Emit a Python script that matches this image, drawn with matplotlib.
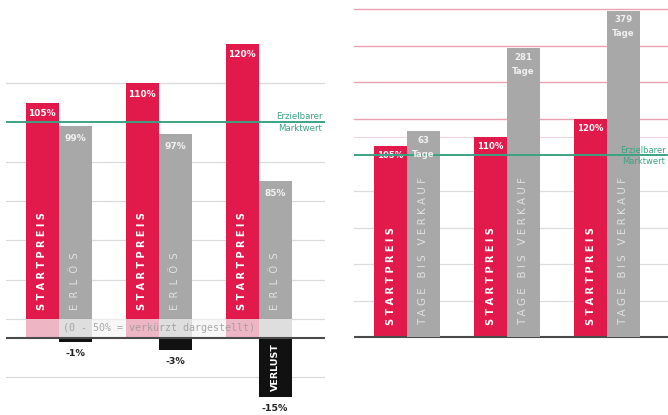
import numpy as np
import matplotlib
matplotlib.use('Agg')
import matplotlib.pyplot as plt
from matplotlib.transforms import blended_transform_factory

# ---------------- data ----------------
groups = [0, 1, 2]
startpreis = [105, 110, 120]
startpreis_labels = ['105%', '110%', '120%']
erloes = [99, 97, 85]
erloes_labels = ['99%', '97%', '85%']
verlust = [-1, -3, -15]
verlust_labels = ['-1%', '-3%', '-15%']
marktwert = 100
tage = [63, 281, 379]
tage_labels = ['63', '281', '379']
cut_lo, cut_hi = 0, 50
grid_left = [-10, 50, 60, 70, 80, 90, 110]
grid_right_grey = [20, 40, 60, 80]
grid_right_red = [120, 140, 160, 180]
grid_right_faint = [110]

RED = '#e11a4b'
GREY = '#a8a8a8'
GREEN = '#3aa382'
BLACK = '#111111'

W, H = 668, 415
fig = plt.figure(figsize=(W / 100, H / 100), dpi=100)

# broken scale for left panel: 0-50 % compressed
C = 4.85
def fwd(v):
    v = np.asarray(v, dtype=float)
    return np.where(v >= cut_hi, v - cut_hi + C, np.where(v >= cut_lo, v * C / cut_hi, v))
def inv(d):
    d = np.asarray(d, dtype=float)
    return np.where(d >= C, d - C + cut_hi, np.where(d >= 0, d * cut_hi / C, d))

x = np.array(groups, dtype=float)
bw = 0.33

# ---------------- left panel ----------------
axL = fig.add_axes([6 / W, 0, 319 / W, 1])
axL.set_yscale('function', functions=(fwd, inv))
axL.set_xlim(-0.525, 2.665)
axL.set_ylim(-19.6, 131.15)
axL.axis('off')

for g in grid_left:
    axL.axhline(g, color='#dadada', lw=0.9, zorder=1)

axL.bar(x - bw / 2, startpreis, bw, color=RED, zorder=2, lw=0)
axL.bar(x + bw / 2, erloes, bw, color=GREY, zorder=2, lw=0)
axL.bar(x + bw / 2, verlust, bw, color=BLACK, zorder=2, lw=0)

# band for shortened region
axL.fill_between([x[0] - bw, x[-1] + bw], cut_lo, cut_hi, color='#f4f4f4',
                 alpha=0.72, lw=0, zorder=3)
axL.text(x[1], (cut_lo + cut_hi) / 2, '(0 - 50% = verkürzt dargestellt)',
         ha='center', va='center', fontsize=7.2, color='#9a9a9a',
         family='DejaVu Sans Mono', alpha=0.85, zorder=4)

axL.axhline(0, color='#4a4a4a', lw=1.5, zorder=5)
axL.axhline(marktwert, color=GREEN, lw=1.4, zorder=5)
axL.annotate('Erzielbarer', xy=(1, marktwert), xycoords=('axes fraction', 'data'),
             xytext=(-2, 6), textcoords='offset pixels', ha='right', va='center',
             fontsize=6.2, color=GREEN, zorder=6)
axL.annotate('Marktwert', xy=(1, marktwert), xycoords=('axes fraction', 'data'),
             xytext=(-3, -6), textcoords='offset pixels', ha='right', va='center',
             fontsize=6.2, color=GREEN, zorder=6)

for xi, v, lab in zip(x - bw / 2, startpreis, startpreis_labels):
    axL.annotate(lab, xy=(xi, v), xytext=(0, -11), textcoords='offset pixels',
                 ha='center', va='center', color='white', fontsize=6.5,
                 fontweight='bold', zorder=6)
    axL.annotate('S T A R T P R E I S', xy=(xi, cut_hi), xytext=(0, 9),
                 textcoords='offset pixels', ha='center', va='bottom', rotation=90,
                 color='white', fontsize=7, fontweight='bold', zorder=6)
for xi, v, lab in zip(x + bw / 2, erloes, erloes_labels):
    axL.annotate(lab, xy=(xi, v), xytext=(0, -12), textcoords='offset pixels',
                 ha='center', va='center', color='#f2f2f2', fontsize=6.5,
                 fontweight='bold', zorder=6)
    axL.annotate('E  R  L  Ö  S', xy=(xi, cut_hi), xytext=(0, 9),
                 textcoords='offset pixels', ha='center', va='bottom', rotation=90,
                 color='#e2e2e2', fontsize=7.2, zorder=6)
for xi, v, lab in zip(x + bw / 2, verlust, verlust_labels):
    axL.annotate(lab, xy=(xi, v), xytext=(0, -12), textcoords='offset pixels',
                 ha='center', va='center', color='#222222', fontsize=6.8,
                 fontweight='bold', zorder=6)
axL.text(x[2] + bw / 2, verlust[2] / 2, 'VERLUST', rotation=90, ha='center',
         va='center', color='white', fontsize=6.8, fontweight='bold', zorder=6)

# ---------------- right panel ----------------
axR = fig.add_axes([354 / W, 0, 314 / W, 1])
axR.set_xlim(-0.53, 2.61)
axR.set_ylim(-42.9, 185.2)
axR.axis('off')

for g in grid_right_grey:
    axR.axhline(g, color='#dcdcdc', lw=0.9, zorder=1)
for g in grid_right_red:
    axR.axhline(g, color='#e8a2b0', lw=1.0, zorder=1)
for g in grid_right_faint:
    axR.axhline(g, color='#f2d4da', lw=0.8, zorder=1)

axR.bar(x - bw / 2, startpreis, bw, color=RED, zorder=2, lw=0)
axR.axhline(0, color='#4a4a4a', lw=1.5, zorder=5)
for xi, v, lab in zip(x - bw / 2, startpreis, startpreis_labels):
    axR.annotate(lab, xy=(xi, v), xytext=(0, -10), textcoords='offset pixels',
                 ha='center', va='center', color='white', fontsize=6.2,
                 fontweight='bold', zorder=6)
    axR.annotate('S T A R T P R E I S', xy=(xi, 0), xytext=(0, 12),
                 textcoords='offset pixels', ha='center', va='bottom', rotation=90,
                 color='white', fontsize=7, fontweight='bold', zorder=6)

# days on a twin axis (0 days at market-value line)
axT = axR.twinx()
axT.set_ylim(-682, 407)
axT.axis('off')
base = axT.transData.inverted().transform(axR.transData.transform((0, 0)))[1]
tage_arr = np.array(tage, dtype=float)
axT.bar(x + bw / 2, tage_arr - base, bw, bottom=base, color=GREY, zorder=2, lw=0)
for xi, v, lab in zip(x + bw / 2, tage, tage_labels):
    axT.annotate(lab, xy=(xi, v), xytext=(0, -9), textcoords='offset pixels',
                 ha='center', va='center', color='#f0f0f0', fontsize=6.2,
                 fontweight='bold', zorder=6)
    axT.annotate('Tage', xy=(xi, v), xytext=(0, -23), textcoords='offset pixels',
                 ha='center', va='center', color='#f0f0f0', fontsize=6.2,
                 fontweight='bold', zorder=6)
    axT.annotate('T A G E   B I S   V E R K A U F', xy=(xi, base), xytext=(0, 12),
                 textcoords='offset pixels', ha='center', va='bottom', rotation=90,
                 color='#e0e0e0', fontsize=7.5, zorder=6)

bt = blended_transform_factory(axT.transAxes, axR.transData)
axT.plot([0, 1], [marktwert, marktwert], transform=bt, color=GREEN, lw=1.4, zorder=5)
axT.annotate('Erzielbarer', xy=(1, marktwert), xycoords=bt,
             xytext=(-2, 5), textcoords='offset pixels', ha='right', va='center',
             fontsize=6.0, color=GREEN, zorder=6, annotation_clip=False)
axT.annotate('Marktwert', xy=(1, marktwert), xycoords=bt,
             xytext=(-3, -6), textcoords='offset pixels', ha='right', va='center',
             fontsize=6.0, color=GREEN, zorder=6, annotation_clip=False)

fig.savefig('out.png', dpi=100)
